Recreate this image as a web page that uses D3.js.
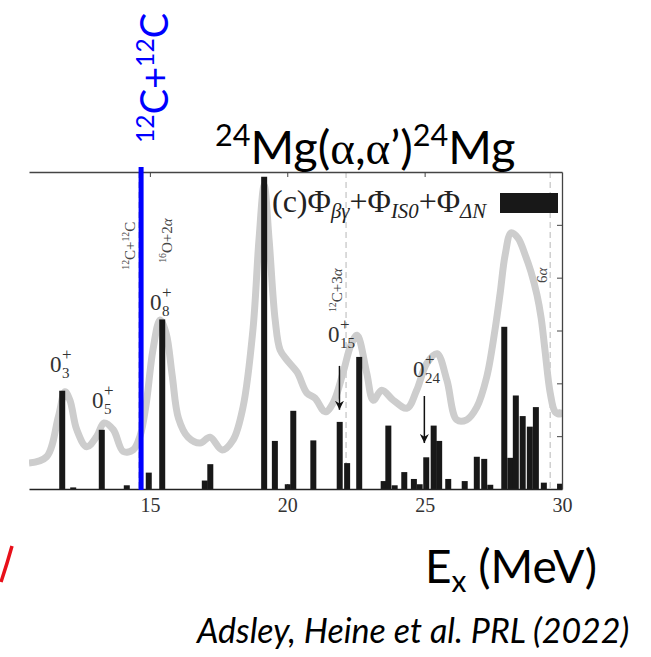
<!DOCTYPE html>
<html>
<head>
<meta charset="utf-8">
<script src="https://cdn.jsdelivr.net/npm/d3@7"></script>
<style>
  body { margin: 0; background: #fff; }
  svg { display: block; }
</style>
</head>
<body>
<svg id="chart" width="651" height="657"></svg>
<script>
// strength histogram (MeV, arb. units)
const barEnergies = [11.82, 12.22, 13.26, 14.17, 14.97, 15.46, 17.01, 17.21, 19.17, 19.56,
  20.03, 20.23, 20.96, 21.92, 22.19, 22.63, 23.52, 23.69, 23.92, 24.27,
  24.62, 24.83, 25.07, 25.34, 25.54, 25.87, 26.47, 26.91, 27.18, 27.40,
  27.91, 28.13, 28.33, 28.58, 28.84, 29.06, 29.35, 29.94];
const barHeights = [1.86, 0.03, 1.12, 0.07, 0.31, 3.21, 0.16, 0.47, 5.91, 0.91,
  0.09, 1.48, 0.92, 1.27, 0.49, 2.50, 0.15, 1.20, 0.07, 0.32,
  0.19, 0.09, 0.60, 1.20, 0.91, 0.19, 0.15, 0.61, 0.57, 0.08,
  3.07, 0.59, 1.77, 1.38, 1.18, 1.55, 0.12, 0.10];

// experimental spectrum (grey)
const curveEnergies = [10.60, 11.24, 11.67, 11.91, 12.09, 12.34, 12.70, 13.06, 13.33, 13.67,
  14.03, 14.39, 14.64, 14.86, 15.11, 15.37, 15.59, 15.81, 16.04, 16.39,
  16.83, 17.19, 17.63, 18.03, 18.39, 18.75, 18.97, 19.16, 19.34, 19.56,
  19.74, 19.99, 20.36, 20.71, 21.01, 21.38, 21.67, 22.03, 22.32, 22.54,
  22.89, 23.13, 23.44, 23.86, 24.36, 24.71, 25.08, 25.45, 25.81, 26.17,
  26.53, 26.90, 27.26, 27.56, 27.75, 27.93, 28.15, 28.40, 28.66, 28.87,
  29.09, 29.24, 29.38, 29.57, 29.75, 29.93, 30.00];
const curveValues = [0.49, 0.61, 1.37, 1.84, 1.68, 1.12, 0.80, 0.99, 1.25, 1.12,
  0.71, 0.74, 1.00, 1.59, 2.63, 3.20, 2.95, 2.16, 1.34, 0.98,
  0.87, 0.98, 0.74, 0.93, 1.55, 3.01, 4.71, 5.75, 4.71, 3.20,
  2.63, 2.44, 2.21, 1.82, 1.72, 1.46, 1.63, 2.20, 2.73, 2.91,
  2.20, 1.68, 1.87, 1.68, 1.53, 1.87, 2.38, 2.56, 2.06, 1.31,
  1.31, 1.55, 2.12, 3.01, 3.71, 4.43, 4.85, 4.75, 4.43, 4.11,
  3.67, 3.24, 2.63, 1.82, 1.46, 1.42, 1.50];

const xTicks = [15, 20, 25, 30];
const yTicks = [1, 2, 3, 4, 5];

// thresholds: dashed lines + rotated labels
const thresholdEnergies = [14.6, 22.14, 29.57];
const thresholdLabels = [
  [['12', '^'], ['C+', ''], ['12', '^'], ['C', '']],
  [['16', '^'], ['O+2', ''], ['α', 'i']],
  [['12', '^'], ['C+3', ''], ['α', 'i']],
  [['6', ''], ['α', 'i']]
];
const thresholdLabelE = [14.46, 15.81, 21.99, 29.46];
const thresholdLabelV = [4.15, 4.28, 3.35, 3.90];

// 0+ state labels
const stateIndex = ['3', '5', '8', '15', '24'];
const stateLabelE = [11.36, 12.89, 15.0, 21.48, 24.58];
const stateLabelV = [2.21, 1.53, 3.39, 2.78, 2.12];

// arrows
const arrowE = [21.90, 24.99];
const arrowFrom = [2.33, 1.76];
const arrowTo = [1.50, 0.87];

const blueLineE = 14.68;

const svg = d3.select('#chart');
const plotLeft = 29, plotRight = 562, plotTop = 172, plotBottom = 489;

const x = d3.scaleLinear().domain([10.6, 30]).range([plotLeft, plotRight]);
const y = d3.scaleLinear().domain([0, 6]).range([plotBottom, plotTop]);

const serif = '"Liberation Serif", "Times New Roman", serif';
const sans = 'Lato, "Open Sans", sans-serif';

const defs = svg.append('defs');
defs.append('clipPath').attr('id', 'plot')
  .append('rect').attr('x', plotLeft).attr('y', plotTop)
  .attr('width', plotRight - plotLeft).attr('height', plotBottom - plotTop);

function rich(text, parts, size) {
  let cur = 0;
  parts.forEach(([s, k]) => {
    const small = k === '^' || k === '_' || k === '_i';
    const target = k === '^' ? -0.38 * size : (k === '_' || k === '_i') ? 0.2 * size : 0;
    const t = text.append('tspan')
      .attr('font-size', small ? size * 0.65 : size)
      .attr('dy', target - cur)
      .text(s);
    if (k === 'i' || k === '_i') t.attr('font-style', 'italic');
    if (k === 'g') t.attr('font-family', serif);
    cur = target;
  });
}

const plot = svg.append('g').attr('clip-path', 'url(#plot)');

// dashed threshold lines
plot.selectAll('line.thr')
  .data(thresholdEnergies)
  .join('line')
  .attr('x1', d => x(d)).attr('x2', d => x(d))
  .attr('y1', plotTop).attr('y2', plotBottom)
  .attr('stroke', '#c4c4c4')
  .attr('stroke-width', 1.2)
  .attr('stroke-dasharray', '6,4');

// grey spectrum
const line = d3.line()
  .x((d, i) => x(curveEnergies[i]))
  .y(d => y(d))
  .curve(d3.curveCatmullRom.alpha(0.5));

plot.append('path')
  .datum(curveValues)
  .attr('d', line)
  .attr('fill', 'none')
  .attr('stroke', '#cdcdcd')
  .attr('stroke-width', 7)
  .attr('stroke-linejoin', 'round');

// bars
const binHalf = 0.12;
plot.selectAll('rect.bar')
  .data(barHeights)
  .join('rect')
  .attr('class', 'bar')
  .attr('x', (d, i) => x(barEnergies[i] - binHalf))
  .attr('width', (d, i) => x(barEnergies[i] + binHalf) - x(barEnergies[i] - binHalf) - 0.6)
  .attr('y', d => y(d))
  .attr('height', d => y(0) - y(d))
  .attr('fill', '#181818');

// axes
const bottomAxis = svg.append('g')
  .attr('transform', `translate(0,${plotBottom})`)
  .call(d3.axisBottom(x).tickValues(xTicks).tickSizeInner(-5).tickSizeOuter(0).tickPadding(9));
bottomAxis.select('.domain').attr('stroke', '#222').attr('stroke-width', 1.6);
bottomAxis.selectAll('.tick line').attr('stroke', '#222');
bottomAxis.selectAll('.tick text')
  .attr('font-family', serif).attr('font-size', 20).attr('fill', '#333');

const topAxis = svg.append('g')
  .attr('transform', `translate(0,${plotTop})`)
  .call(d3.axisTop(x).tickValues(xTicks.slice(0, 3)).tickSizeInner(-5).tickSizeOuter(0).tickFormat(''));
topAxis.select('.domain').attr('stroke', '#444').attr('stroke-width', 1.3);
topAxis.selectAll('.tick line').attr('stroke', '#444');

const rightAxis = svg.append('g')
  .attr('transform', `translate(${plotRight},0)`)
  .call(d3.axisRight(y).tickValues(yTicks).tickSizeInner(-5).tickSizeOuter(0).tickFormat(''));
rightAxis.select('.domain').attr('stroke', '#444').attr('stroke-width', 1.3);
rightAxis.selectAll('.tick line').attr('stroke', '#444');

// rotated threshold labels
thresholdLabels.forEach((parts, i) => {
  const t = svg.append('text')
    .attr('transform', `translate(${x(thresholdLabelE[i])},${y(thresholdLabelV[i])}) rotate(-90)`)
    .attr('font-family', serif)
    .attr('fill', '#444');
  rich(t, parts, 15);
});

// state labels 0+_n (one text each, sup and sub stacked)
stateIndex.forEach((n, i) => {
  const gx = x(stateLabelE[i]), gy = y(stateLabelV[i]);
  const t = svg.append('text')
    .attr('x', gx).attr('y', gy)
    .attr('font-family', serif).attr('fill', '#333');
  t.append('tspan').attr('font-size', 23).text('0');
  t.append('tspan').attr('x', gx + 12).attr('dy', -12).attr('font-size', 17).text('+');
  t.append('tspan').attr('x', gx + 12).attr('dy', 18).attr('font-size', 15).text(n);
});

// arrows
defs.append('marker')
  .attr('id', 'head').attr('viewBox', '0 0 10 10')
  .attr('refX', 10).attr('refY', 5)
  .attr('markerWidth', 9).attr('markerHeight', 9)
  .attr('markerUnits', 'userSpaceOnUse')
  .attr('orient', 'auto')
  .append('path').attr('d', 'M0,0 L10,5 L0,10 L3,5 Z').attr('fill', '#111');

svg.selectAll('line.arrow')
  .data(arrowE)
  .join('line')
  .attr('class', 'arrow')
  .attr('x1', d => x(d)).attr('x2', d => x(d))
  .attr('y1', (d, i) => y(arrowFrom[i]))
  .attr('y2', (d, i) => y(arrowTo[i]))
  .attr('stroke', '#111')
  .attr('stroke-width', 1.5)
  .attr('marker-end', 'url(#head)');

// legend
const legend = svg.append('text')
  .attr('x', 272).attr('y', 212)
  .attr('font-family', serif)
  .attr('fill', '#222');
rich(legend, [['(c)', ''], ['Φ', ''], ['βγ', '_i'], ['+Φ', ''], ['IS0', '_i'], ['+Φ', ''], ['ΔN', '_i']], 32);
svg.append('rect')
  .attr('x', 500).attr('y', 193).attr('width', 58).attr('height', 20)
  .attr('fill', '#181818');

// blue 12C+12C line
svg.append('line')
  .attr('x1', x(blueLineE)).attr('x2', x(blueLineE))
  .attr('y1', plotTop - 5).attr('y2', plotBottom + 1)
  .attr('stroke', '#0000ff')
  .attr('stroke-width', 5);

const blueText = svg.append('text')
  .attr('transform', 'translate(168,143) rotate(-90)')
  .attr('font-family', sans)
  .attr('fill', '#0000ff');
rich(blueText, [['12', '^'], ['C+', ''], ['12', '^'], ['C', '']], 38);

// title
const title = svg.append('text')
  .attr('x', 215).attr('y', 164)
  .attr('font-family', sans)
  .attr('fill', '#000');
rich(title, [['24', '^'], ['Mg(', ''], ['α', 'g'], [',', ''], ['α', 'g'], ['’)', ''], ['24', '^'], ['Mg', '']], 47);

svg.append('text')
  .attr('x', 425).attr('y', 583)
  .attr('font-family', sans)
  .call(t => rich(t, [['E', ''], ['x', '_'], [' (MeV)', '']], 46));

svg.append('text')
  .attr('x', 197).attr('y', 643)
  .attr('font-family', sans)
  .attr('font-style', 'italic')
  .attr('font-size', 34)
  .text('Adsley, Heine et al. PRL (2022)');

// red fragment at left edge
svg.append('path')
  .attr('d', 'M12,546 Q7,564 1,582')
  .attr('fill', 'none')
  .attr('stroke', '#e8101a')
  .attr('stroke-width', 3.5);
</script>
</body>
</html>
